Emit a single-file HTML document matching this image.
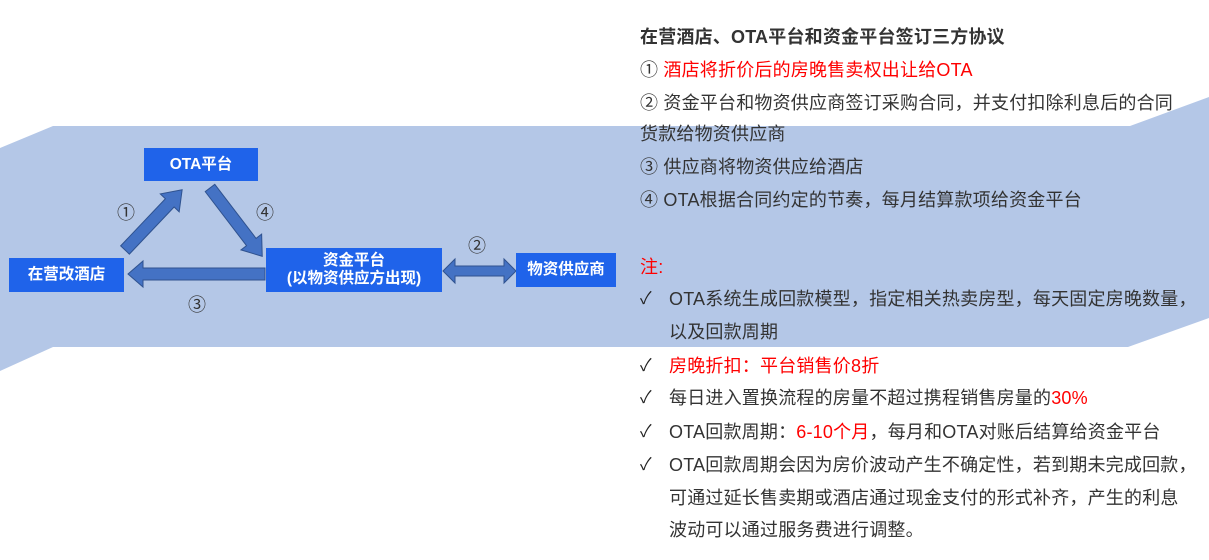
<!DOCTYPE html>
<html><head><meta charset="utf-8"><style>
body{margin:0;width:1209px;height:560px;background:#fff;position:relative;overflow:hidden;font-family:"Liberation Sans","Noto Sans CJK SC",sans-serif}
.l{position:absolute;left:640px;white-space:nowrap;font-size:18px;line-height:24px;color:#333;letter-spacing:0.2px}
.r{color:#f00}
.ck{position:absolute;left:640px;font-size:17px;line-height:24px;color:#222}
.box{position:absolute;background:#1f63ea;color:#fff;font-weight:bold;font-size:15.5px;display:flex;align-items:center;justify-content:center;text-align:center;line-height:18px;font-family:"Liberation Sans","Noto Sans CJK SC",sans-serif}
.n{position:absolute;font-size:18px;color:#333}
</style></head><body>
<svg width="1209" height="560" style="position:absolute;left:0;top:0">
<polygon points="0,148 53,126 1130,126 1209,97 1209,318 1128,347 53,347 0,371" fill="#b4c7e7"/>
<g fill="#4472c4" stroke="#2f528f" stroke-width="1">
<polygon points="0,-6 65,-6 65,-13 83,0 65,13 65,6 0,6" transform="translate(125,250) rotate(-46.5)"/>
<polygon points="0,-6 68,-6 68,-13 86,0 68,13 68,6 0,6" transform="translate(210,188) rotate(52.6)"/>
<polygon points="265,268 143,268 143,261 128,274 143,287 143,280 265,280"/>
<polygon points="443,271 455,259 455,266 504,266 504,259 516,271 504,283 504,276 455,276 455,283"/>
</g>
</svg>
<div class="box" style="left:144px;top:148px;width:114px;height:33px">OTA平台</div>
<div class="box" style="left:9px;top:258px;width:115px;height:34px">在营改酒店</div>
<div class="box" style="left:266px;top:248px;width:176px;height:44px">资金平台<br>(以物资供应方出现)</div>
<div class="box" style="left:516px;top:253px;width:100px;height:34px">物资供应商</div>
<div class="n" style="left:117px;top:199px">①</div>
<div class="n" style="left:256px;top:199px">④</div>
<div class="n" style="left:188px;top:291px">③</div>
<div class="n" style="left:468px;top:232px">②</div>

<div class="l" style="top:25px;font-weight:bold">在营酒店、OTA平台和资金平台签订三方协议</div>
<div class="l" style="top:58px">① <span class="r">酒店将折价后的房晚售卖权出让给OTA</span></div>
<div class="l" style="top:91px">② 资金平台和物资供应商签订采购合同，并支付扣除利息后的合同</div>
<div class="l" style="top:122px">货款给物资供应商</div>
<div class="l" style="top:155px">③ 供应商将物资供应给酒店</div>
<div class="l" style="top:188px">④ OTA根据合同约定的节奏，每月结算款项给资金平台</div>
<div class="l r" style="top:255px">注:</div>
<div class="ck" style="top:287px">✓</div><div class="l" style="left:669px;top:287px">OTA系统生成回款模型，指定相关热卖房型，每天固定房晚数量，</div>
<div class="l" style="left:669px;top:320px">以及回款周期</div>
<div class="ck r" style="top:354px">✓</div><div class="l r" style="left:669px;top:354px">房晚折扣：平台销售价8折</div>
<div class="ck" style="top:386px">✓</div><div class="l" style="left:669px;top:386px">每日进入置换流程的房量不超过携程销售房量的<span class="r">30%</span></div>
<div class="ck" style="top:420px">✓</div><div class="l" style="left:669px;top:420px">OTA回款周期：<span class="r">6-10个月</span>，每月和OTA对账后结算给资金平台</div>
<div class="ck" style="top:453px">✓</div><div class="l" style="left:669px;top:453px">OTA回款周期会因为房价波动产生不确定性，若到期未完成回款，</div>
<div class="l" style="left:669px;top:486px">可通过延长售卖期或酒店通过现金支付的形式补齐，产生的利息</div>
<div class="l" style="left:669px;top:518px">波动可以通过服务费进行调整。</div>
</body></html>
